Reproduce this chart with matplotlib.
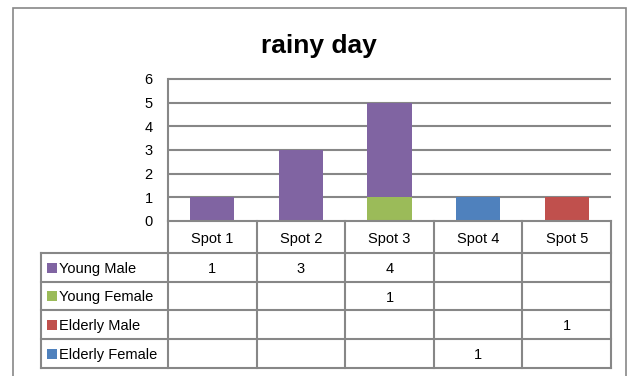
"""Stacked column chart of visitor counts per spot on a rainy day, with an Excel-style data table."""

import matplotlib.pyplot as plt
from matplotlib.patches import Rectangle

spots = ["Spot 1", "Spot 2", "Spot 3", "Spot 4", "Spot 5"]
series_names = ["Young Male", "Young Female", "Elderly Male", "Elderly Female"]
young_male = [1, 3, 4, 0, 0]
young_female = [0, 0, 1, 0, 0]
elderly_male = [0, 0, 0, 0, 1]
elderly_female = [0, 0, 0, 1, 0]
series_values = [young_male, young_female, elderly_male, elderly_female]
series_colors = ["#8064A2", "#9BBB59", "#C0504D", "#4F81BD"]

W, H = 632, 376
GRAY = "#878787"
plt.rcParams["font.family"] = ["Liberation Sans", "DejaVu Sans"]


def fig_box(left, top, right, bottom):
    """Pixel box (from the top-left corner) to a figure-fraction rect."""
    return [left / W, 1 - bottom / H, (right - left) / W, (bottom - top) / H]


fig = plt.figure(figsize=(W / 100, H / 100), dpi=100)

# outer chart frame
fig.patches.append(Rectangle((13 / W, -0.05), (626 - 13) / W, 1 - 8 / H + 0.05,
                             transform=fig.transFigure, fill=False,
                             edgecolor=GRAY, linewidth=1.2))
fig.text(319 / W, 1 - 53 / H, "rainy day", ha="center", va="baseline",
         fontsize=19, fontweight="bold", color="black")

# plot area
ax = fig.add_axes(fig_box(168, 79, 611, 221))
x = list(range(len(spots)))
bottom = [0] * len(spots)
# stack from the last table row upwards so Young Male sits on top
for vals, color in reversed(list(zip(series_values, series_colors))):
    ax.bar(x, vals, width=0.5, bottom=bottom, color=color, zorder=3)
    bottom = [b + v for b, v in zip(bottom, vals)]

ax.set_xlim(-0.5, len(spots) - 0.5)
ax.set_ylim(0, 6)
ax.set_yticks(range(7))
ax.hlines(range(1, 7), -0.5, len(spots) - 0.5, color=GRAY, linewidth=1.5,
          zorder=1, clip_on=False)
ax.set_xticks([])
ax.tick_params(axis="y", length=0, pad=11, labelsize=10.5)
for side in ("top", "right", "bottom"):
    ax.spines[side].set_visible(False)
ax.spines["left"].set_color(GRAY)
ax.spines["left"].set_linewidth(1.5)

# data table below the plot area, in pixel units
tab = fig.add_axes(fig_box(41, 221, 611, 368))
tab.set_xlim(41, 611)
tab.set_ylim(368, 221)
tab.axis("off")
col_w = (611 - 168) / len(spots)
col_edges = [168 + i * col_w for i in range(len(spots) + 1)]
row_edges = [221, 253, 282, 310, 339, 368]
line_kw = dict(color=GRAY, linewidth=1.5, clip_on=False, solid_capstyle="projecting")
text_kw = dict(va="center_baseline", fontsize=10.5)

tab.plot([168, 611], [row_edges[0]] * 2, **line_kw)
for y in row_edges[1:]:
    tab.plot([41, 611], [y, y], **line_kw)
for xe in col_edges:
    tab.plot([xe, xe], [221, 368], **line_kw)
tab.plot([41, 41], [253, 368], **line_kw)

for i, name in enumerate(spots):
    cx = (col_edges[i] + col_edges[i + 1]) / 2
    tab.text(cx, (row_edges[0] + row_edges[1]) / 2, name, ha="center", **text_kw)

for r, (name, vals, color) in enumerate(zip(series_names, series_values, series_colors)):
    cy = (row_edges[r + 1] + row_edges[r + 2]) / 2
    tab.add_patch(Rectangle((47, cy - 5), 10, 10, facecolor=color,
                            edgecolor="none"))
    tab.text(59, cy, name, ha="left", **text_kw)
    for i, v in enumerate(vals):
        if v:
            cx = (col_edges[i] + col_edges[i + 1]) / 2
            tab.text(cx, cy, str(v), ha="center", **text_kw)

fig.savefig("out.png", dpi=100)
